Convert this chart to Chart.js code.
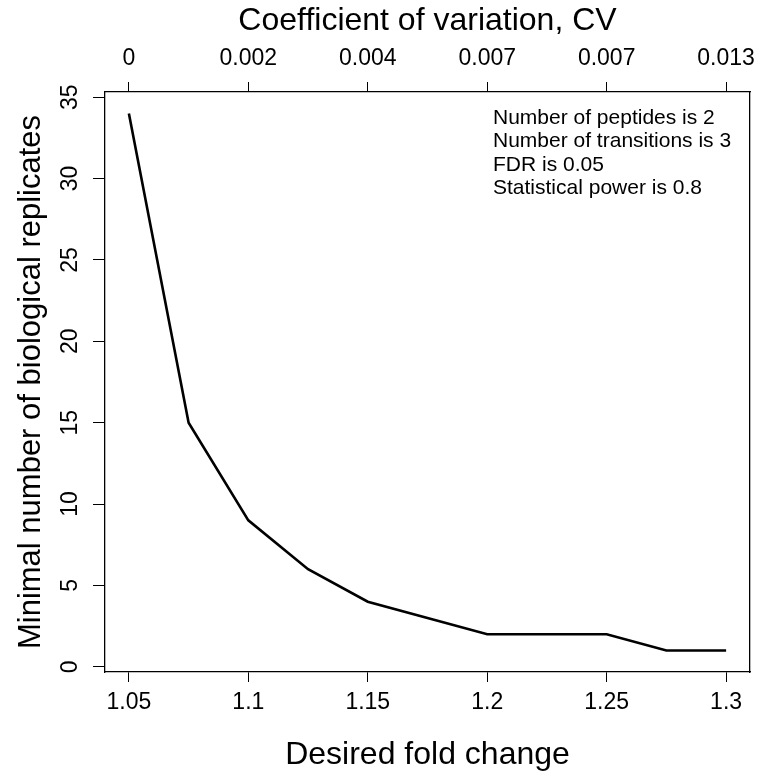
<!DOCTYPE html>
<html lang="en">
<head>
  <meta charset="UTF-8">
  <title>Replicates vs fold change</title>
  <script src="https://cdn.jsdelivr.net/npm/chart.js"></script>
  <style>
    html, body { margin: 0; padding: 0; background: #fff; }
    canvas { display: block; }
  </style>
</head>
<body>
  <canvas id="grafico" width="769" height="771"></canvas>

  <script>
    // data
    const foldChange = [1.05, 1.075, 1.1, 1.125, 1.15, 1.175, 1.2, 1.225, 1.25, 1.275, 1.3];
    const replicates = [34, 15, 9, 6, 4, 3, 2, 2, 2, 1, 1];

    // axis ticks
    const foldTicks = [1.05, 1.1, 1.15, 1.2, 1.25, 1.3];
    const cvLabels = ['0', '0.002', '0.004', '0.007', '0.007', '0.013'];
    const yTicks = [0, 5, 10, 15, 20, 25, 30, 35];

    const notas = [
      'Number of peptides is 2',
      'Number of transitions is 3',
      'FDR is 0.05',
      'Statistical power is 0.8'
    ];

    const FONTE = "'Liberation Sans', Arial, Helvetica, sans-serif";

    function fixarTicks(valores) {
      return scale => { scale.ticks = valores.map(v => ({ value: v })); };
    }

    // y tick labels rotated like R's las=0, plus the text block top right
    const extras = {
      id: 'extras',
      afterDraw(chart) {
        const ctx = chart.ctx;
        const y = chart.scales.y;
        const area = chart.chartArea;
        ctx.save();
        ctx.fillStyle = '#000';
        ctx.font = '23px ' + FONTE;
        ctx.textAlign = 'center';
        ctx.textBaseline = 'middle';
        yTicks.forEach(v => {
          const py = y.getPixelForValue(v);
          ctx.save();
          ctx.translate(71, py);
          ctx.rotate(-Math.PI / 2);
          ctx.fillText(String(v), 0, 0);
          ctx.restore();
        });

        ctx.font = '21px ' + FONTE;
        ctx.textAlign = 'left';
        notas.forEach((t, i) => {
          ctx.fillText(t, area.right - 257, area.top + 26 + i * 23.5);
        });
        ctx.restore();
      }
    };

    const eixoGrid = {
      drawOnChartArea: false,
      drawTicks: true,
      tickLength: 10,
      tickColor: '#000',
      lineWidth: 1
    };
    const borda = { display: true, color: '#000', width: 1.3 };

    new Chart(document.getElementById('grafico').getContext('2d'), {
      type: 'line',
      data: {
        datasets: [{
          data: foldChange.map((x, i) => ({ x: x, y: replicates[i] })),
          borderColor: '#000',
          borderWidth: 2.6,
          pointRadius: 0,
          tension: 0,
          fill: false
        }]
      },
      options: {
        responsive: false,
        animation: false,
        layout: { padding: 0 },
        plugins: {
          legend: { display: false },
          tooltip: { enabled: false }
        },
        scales: {
          x: {
            type: 'linear',
            position: 'bottom',
            min: 1.04,
            max: 1.31,
            afterBuildTicks: fixarTicks(foldTicks),
            afterFit: s => { s.height = 99; },
            grid: eixoGrid,
            border: borda,
            ticks: {
              color: '#000',
              font: { family: FONTE, size: 23, lineHeight: 1 },
              padding: 9,
              maxRotation: 0,
              autoSkip: false,
              callback: v => String(v)
            },
            title: {
              display: true,
              text: 'Desired fold change',
              color: '#000',
              font: { family: FONTE, size: 32, lineHeight: 1 },
              padding: { top: 0, bottom: 0 }
            }
          },
          x2: {
            type: 'linear',
            position: 'top',
            min: 1.04,
            max: 1.31,
            afterBuildTicks: fixarTicks(foldTicks),
            afterFit: s => { s.height = 92; },
            grid: eixoGrid,
            border: borda,
            ticks: {
              color: '#000',
              font: { family: FONTE, size: 23, lineHeight: 1 },
              padding: 12,
              maxRotation: 0,
              autoSkip: false,
              callback: v => {
                const i = foldTicks.findIndex(t => Math.abs(t - v) < 1e-9);
                return i >= 0 ? cvLabels[i] : '';
              }
            },
            title: {
              display: true,
              text: 'Coefficient of variation, CV',
              color: '#000',
              font: { family: FONTE, size: 32, lineHeight: 1 },
              padding: { top: 5, bottom: 0 }
            }
          },
          y: {
            type: 'linear',
            position: 'left',
            min: -0.32,
            max: 35.32,
            afterBuildTicks: fixarTicks(yTicks),
            afterFit: s => { s.width = 105; },
            grid: Object.assign({}, eixoGrid, { tickLength: 12 }),
            border: borda,
            ticks: { display: false },
            title: {
              display: true,
              text: 'Minimal number of biological replicates',
              color: '#000',
              font: { family: FONTE, size: 31, lineHeight: 1 },
              padding: { top: 16, bottom: 0 }
            }
          },
          y2: {
            type: 'linear',
            position: 'right',
            min: -0.32,
            max: 35.32,
            afterFit: s => { s.width = 19; },
            grid: { drawOnChartArea: false, drawTicks: false },
            border: borda,
            ticks: { display: false }
          }
        }
      },
      plugins: [extras]
    });
  </script>
</body>
</html>
